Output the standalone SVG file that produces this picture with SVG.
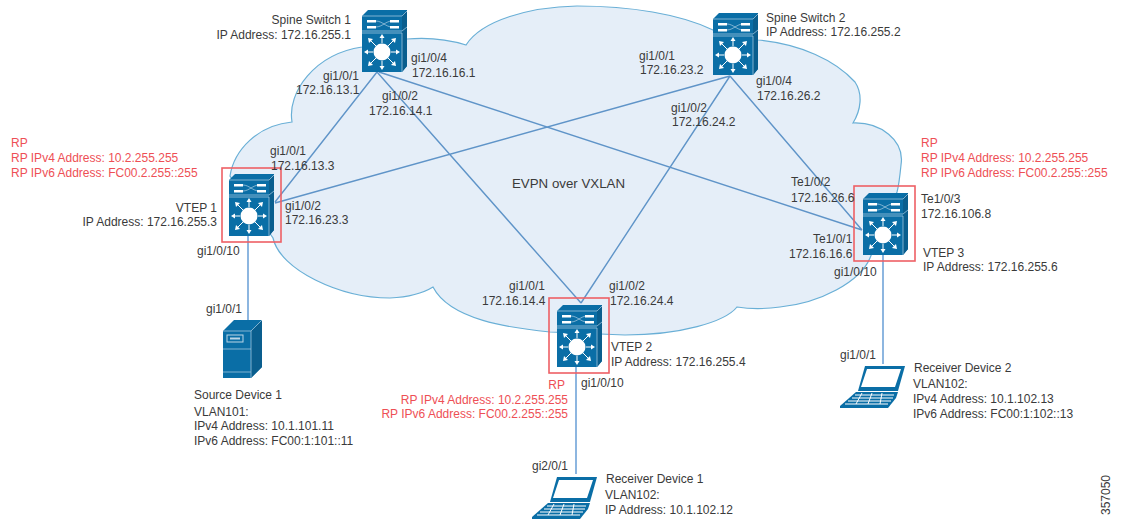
<svg xmlns="http://www.w3.org/2000/svg" xmlns:xlink="http://www.w3.org/1999/xlink" width="1123" height="521" viewBox="0 0 1123 521">
<style>
text{font-family:"Liberation Sans",Arial,sans-serif;font-size:12px;fill:#3a3a3a}
text.rp{fill:#ee4f55}
text.e{text-anchor:end}
text.big{font-size:13.300px}
.cloud{fill:#e5eef8;stroke:#69afd6;stroke-width:1.2}
.link{stroke:#5f94c8;stroke-width:1.4;fill:none}
.drop{stroke:#8db6e0;stroke-width:2;fill:none}
.rpbox{fill:none;stroke:#ee6065;stroke-width:1.6}
.b{fill:#0a6ea6}
.d{fill:#0a5e8e}
.w{fill:#fff}
.wl{stroke:#fff;fill:none;stroke-width:1}
.sl{stroke:#9cc4dd;fill:none;stroke-width:.8}
</style>
<defs>
<symbol id="sw" width="45" height="62" viewBox="0 0 45 62" overflow="visible">
<path class="b" d="M0 6 6 0H45V56L40 62H0Z"/>
<path class="d" d="M40 5 45 0V56L40 62Z"/>
<path class="sl" d="M0 6H40L45 1M0 21H40L45 17M0 23H40V62"/>
<path class="sl" d="M8 11H14C20 11 24 17 30 17H37M8 17H14C20 17 24 11 30 11H37"/>
<path class="w" d="M5 10H14V12.500H5ZM5 16H14V18.500H5ZM28 10H37V12.500H28ZM28 16H37V18.500H28Z"/>
<circle class="w" cx="20" cy="42" r="8.500"/>
<path class="wl" d="M20 33V26M20 51V58M11 42H4M29 42H36M14 36 8 30M26 36 32 30M14 48 8 54M26 48 32 54"/>
<path class="w" d="M20 24 17.500 28H22.500ZM20 60 17.500 56H22.500ZM2 42 6 39.500V44.500ZM38 42 34 39.500V44.500ZM6 28 7 33 11 29ZM34 28 33 33 29 29ZM6 56 7 51 11 55ZM34 56 33 51 29 55Z"/>
</symbol>
<symbol id="laptop" width="66" height="44" viewBox="0 0 66 44" overflow="visible">
<path class="b" d="M25 1H65L58 26H18Z"/>
<path class="w" d="M27 4H61L55 22H21Z"/>
<path class="b" d="M16 27H58L56 33 48 43H0V41Z"/>
<path class="wl" d="M15 30H54M12 33H53M8 36H51M5 39H48M22 28 16 39M32 28 28 39M42 28 40 39" stroke-width=".5"/>
</symbol>
</defs>
<rect width="1123" height="521" fill="#fff"/>
<g id="cloud"><path class="cloud" d="M230 176C234 150 258 125 292 122C287 92 315 54 362 47L407 39C430 37 450 40 466 45C482 20 530 7 577 6C630 6 680 14 713 30L758 40C800 44 835 60 855 82C863 94 861 110 853 123C880 122 905 140 901 165C900 175 899 185 897 192L870 258C860 282 820 303 780 307C765 309 750 309 737 307C725 322 680 335 625 335L550 332C510 328 450 320 433 287C425 292 410 297 390 298C340 298 280 270 273 238Z"/></g>
<g id="connectors">
<path class="link" d="M377 72 275 202M377 72 581 303M379 72 862 230M730 76 275 203M730 76 581 303M730 76 862 230"/>
<path class="drop" d="M248 235V320M576 367V474M883 255V364"/>
</g>
<g id="spine1"><use href="#sw" x="362" y="10" width="45" height="62"/>
<text class="e" x="351" y="24">Spine Switch 1</text><text class="e" x="351" y="39">IP Address: 172.16.255.1</text>
<text x="411" y="62">gi1/0/4</text><text x="412" y="77">172.16.16.1</text>
<text x="323" y="80">gi1/0/1</text><text x="296" y="94">172.16.13.1</text>
<text x="382" y="100">gi1/0/2</text><text x="369" y="115">172.16.14.1</text></g>
<g id="spine2"><use href="#sw" x="713" y="13" width="45" height="62"/>
<text x="766" y="22">Spine Switch 2</text><text x="766" y="36">IP Address: 172.16.255.2</text>
<text x="639" y="60">gi1/0/1</text><text x="640" y="74">172.16.23.2</text>
<text x="671" y="112">gi1/0/2</text><text x="672" y="126">172.16.24.2</text>
<text x="756" y="85">gi1/0/4</text><text x="757" y="100">172.16.26.2</text></g>
<g id="vtep1"><use href="#sw" x="229" y="174" width="45" height="62"/><rect class="rpbox" x="222" y="168" width="59" height="74"/>
<text class="rp" x="11" y="147">RP</text><text class="rp" x="11" y="162">RP IPv4 Address: 10.2.255.255</text><text class="rp" x="11" y="177">RP IPv6 Address: FC00.2.255::255</text>
<text class="e" x="217" y="212">VTEP 1</text><text class="e" x="217" y="226">IP Address: 172.16.255.3</text>
<text x="270" y="155">gi1/0/1</text><text x="271" y="170">172.16.13.3</text>
<text x="285" y="210">gi1/0/2</text><text x="285" y="224">172.16.23.3</text>
<text x="197" y="255">gi1/0/10</text></g>
<g id="vtep2"><use href="#sw" x="557" y="305" width="45" height="62"/><rect class="rpbox" x="549" y="298" width="60" height="75"/>
<text x="509" y="290">gi1/0/1</text><text x="482" y="305">172.16.14.4</text>
<text x="609" y="290">gi1/0/2</text><text x="610" y="305">172.16.24.4</text>
<text x="611" y="351">VTEP 2</text><text x="611" y="366">IP Address: 172.16.255.4</text>
<text class="rp e" x="565" y="389">RP</text><text class="rp e" x="568" y="404">RP IPv4 Address: 10.2.255.255</text><text class="rp e" x="568" y="418">RP IPv6 Address: FC00.2.255::255</text>
<text x="581" y="387">gi1/0/10</text></g>
<g id="vtep3"><use href="#sw" x="863" y="193" width="45" height="62"/><rect class="rpbox" x="854" y="186" width="61" height="75"/>
<text class="rp" x="921" y="147">RP</text><text class="rp" x="921" y="162">RP IPv4 Address: 10.2.255.255</text><text class="rp" x="921" y="177">RP IPv6 Address: FC00.2.255::255</text>
<text x="791" y="186">Te1/0/2</text><text x="791" y="202">172.16.26.6</text>
<text x="813" y="243">Te1/0/1</text><text x="789" y="258">172.16.16.6</text>
<text x="834" y="276">gi1/0/10</text>
<text x="921" y="203">Te1/0/3</text><text x="921" y="218">172.16.106.8</text>
<text x="923" y="257">VTEP 3</text><text x="923" y="271">IP Address: 172.16.255.6</text></g>
<g id="source1">
<path class="b" d="M223 331 234 320H262V367L251 378H223Z"/>
<path class="d" d="M251 331 262 320V367L251 378Z"/>
<path class="sl" d="M223 331H251L262 320M223 349H251M223 372H251M251 331V378"/>
<rect x="227" y="335" width="16" height="7" fill="none" stroke="#bcd6e6"/>
<rect x="230" y="337.500" width="10" height="2" fill="#bcd6e6"/>
<text x="206" y="313">gi1/0/1</text>
<text x="194" y="399">Source Device 1</text><text x="194" y="416">VLAN101:</text><text x="194" y="430">IPv4 Address: 10.1.101.11</text><text x="194" y="445">IPv6 Address: FC00:1:101::11</text></g>
<g id="receiver1"><use href="#laptop" x="532" y="476" width="66" height="44"/>
<text x="532" y="470">gi2/0/1</text>
<text x="606" y="483">Receiver Device 1</text><text x="605" y="499">VLAN102:</text><text x="605" y="514">IP Address: 10.1.102.12</text></g>
<g id="receiver2"><use href="#laptop" x="840" y="365" width="66" height="44"/>
<text x="840" y="359">gi1/0/1</text>
<text x="914" y="372">Receiver Device 2</text><text x="913" y="388">VLAN102:</text><text x="913" y="403">IPv4 Address: 10.1.102.13</text><text x="913" y="418">IPv6 Address: FC00:1:102::13</text></g>
<text class="big" x="512" y="188">EVPN over VXLAN</text>
<text x="1110" y="515" transform="rotate(-90 1110 515)">357050</text>
</svg>
